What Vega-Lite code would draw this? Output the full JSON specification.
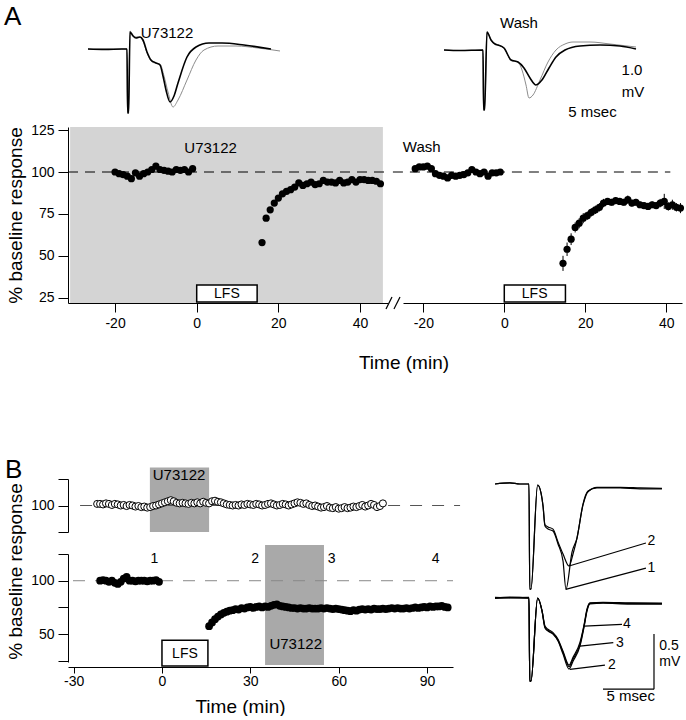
{
"$schema": "https://vega.github.io/schema/vega-lite/v6.json",
"padding": {"left": 4, "top": 0, "right": 0, "bottom": 0},
"autosize": {"type": "pad"},
"background": "white",
"config": {
  "view": {"stroke": null},
  "font": "Liberation Sans",
  "axis": {"grid": false, "domainColor": "black", "tickColor": "black", "labelColor": "black", "titleColor": "black", "labelFontSize": 14, "titleFontSize": 19, "titleFontWeight": "normal", "labelFlush": false, "labelOverlap": false, "domainWidth": 1, "tickWidth": 1, "labelFont": "Liberation Sans", "titleFont": "Liberation Sans"},
  "text": {"color": "black"}
},
"datasets": {
  "trAL": [
    {"s":"d","t":0,"v":0},{"s":"d","t":1.7,"v":-0.01},{"s":"d","t":3.4,"v":0},{"s":"d","t":3.9,"v":0},{"s":"d","t":3.96,"v":-1.6},{"s":"d","t":4.06,"v":-1.6},{"s":"d","t":4.2,"v":0.425},{"s":"d","t":4.5,"v":0.325},{"s":"d","t":4.8,"v":0.275},{"s":"d","t":5.2,"v":0.3},{"s":"d","t":5.5,"v":0.225},{"s":"d","t":5.9,"v":-0.075},{"s":"d","t":6.3,"v":-0.275},{"s":"d","t":6.8,"v":-0.35},{"s":"d","t":7.2,"v":-0.4},{"s":"d","t":7.5,"v":-0.675},{"s":"d","t":7.8,"v":-1.025},{"s":"d","t":8.2,"v":-1.325},{"s":"d","t":8.6,"v":-1.175},{"s":"d","t":9.0,"v":-0.85},{"s":"d","t":9.9,"v":-0.2},{"s":"d","t":10.8,"v":0.05},{"s":"d","t":12.1,"v":0.15},{"s":"d","t":13.4,"v":0.15},{"s":"d","t":15.6,"v":0.1},{"s":"d","t":18.3,"v":0},
    {"s":"c","t":0,"v":0},{"s":"c","t":1.7,"v":-0.01},{"s":"c","t":3.4,"v":0},{"s":"c","t":3.9,"v":0},{"s":"c","t":3.96,"v":-1.6},{"s":"c","t":4.06,"v":-1.6},{"s":"c","t":4.2,"v":0.45},{"s":"c","t":4.5,"v":0.35},{"s":"c","t":4.8,"v":0.3},{"s":"c","t":5.2,"v":0.3},{"s":"c","t":5.5,"v":0.2},{"s":"c","t":5.9,"v":-0.1},{"s":"c","t":6.3,"v":-0.3},{"s":"c","t":6.8,"v":-0.36},{"s":"c","t":7.2,"v":-0.375},{"s":"c","t":7.6,"v":-0.675},{"s":"c","t":8.0,"v":-1.075},{"s":"c","t":8.5,"v":-1.45},{"s":"c","t":9.0,"v":-1.275},{"s":"c","t":9.9,"v":-0.775},{"s":"c","t":10.8,"v":-0.275},{"s":"c","t":11.6,"v":-0.025},{"s":"c","t":13,"v":0.075},{"s":"c","t":14.8,"v":0.075},{"s":"c","t":17,"v":0.025},{"s":"c","t":19.2,"v":-0.05}
  ],
  "trAR": [
    {"s":"d","t":0,"v":0},{"s":"d","t":1.6,"v":-0.0125},{"s":"d","t":3.9,"v":0},{"s":"d","t":3.96,"v":-1.5},{"s":"d","t":4.06,"v":-1.5},{"s":"d","t":4.3,"v":0.45},{"s":"d","t":4.7,"v":0.25},{"s":"d","t":5.1,"v":0.15},{"s":"d","t":5.4,"v":0.125},{"s":"d","t":6.0,"v":0.05},{"s":"d","t":6.7,"v":-0.25},{"s":"d","t":7.4,"v":-0.3},{"s":"d","t":8.0,"v":-0.45},{"s":"d","t":8.6,"v":-0.7},{"s":"d","t":9.2,"v":-0.875},{"s":"d","t":9.8,"v":-0.75},{"s":"d","t":10.5,"v":-0.45},{"s":"d","t":11.2,"v":-0.175},{"s":"d","t":12.1,"v":0},{"s":"d","t":13.6,"v":0.1},{"s":"d","t":15.6,"v":0.125},{"s":"d","t":17.6,"v":0.1},{"s":"d","t":19.2,"v":0.025},
    {"s":"c","t":0,"v":0},{"s":"c","t":1.6,"v":-0.0125},{"s":"c","t":3.9,"v":0},{"s":"c","t":3.96,"v":-1.5},{"s":"c","t":4.06,"v":-1.5},{"s":"c","t":4.3,"v":0.45},{"s":"c","t":4.7,"v":0.25},{"s":"c","t":5.1,"v":0.15},{"s":"c","t":5.4,"v":0.125},{"s":"c","t":6.0,"v":0.05},{"s":"c","t":6.7,"v":-0.25},{"s":"c","t":7.4,"v":-0.3},{"s":"c","t":7.8,"v":-0.5},{"s":"c","t":8.2,"v":-0.875},{"s":"c","t":8.5,"v":-1.2},{"s":"c","t":8.9,"v":-1.125},{"s":"c","t":9.6,"v":-0.75},{"s":"c","t":10.4,"v":-0.3},{"s":"c","t":11.2,"v":0},{"s":"c","t":12.1,"v":0.15},{"s":"c","t":12.9,"v":0.2},{"s":"c","t":14.6,"v":0.2},{"s":"c","t":16.6,"v":0.15},{"s":"c","t":19.2,"v":0.075}
  ],
  "aLpts": [
    {"t":-20,"v":100},{"t":-19,"v":99},{"t":-18,"v":98.5},{"t":-17,"v":97.5},{"t":-16,"v":96},{"t":-15,"v":99.5},{"t":-14,"v":97.5},{"t":-13,"v":99},{"t":-12,"v":100},{"t":-11,"v":101.5},{"t":-10,"v":103.5},{"t":-9,"v":101.5},{"t":-8,"v":101},{"t":-7,"v":100.5},{"t":-6,"v":100},{"t":-5,"v":101.5},{"t":-4,"v":101},{"t":-3,"v":101.5},{"t":-2,"v":100},{"t":-1,"v":102},
    {"t":16,"v":58},{"t":17,"v":72.5},{"t":18,"v":77.5},{"t":19,"v":81.5},{"t":20,"v":84.5},{"t":21,"v":87},{"t":22,"v":88.5},{"t":23,"v":89.5},{"t":24,"v":91},{"t":25,"v":93.5},{"t":26,"v":92},{"t":27,"v":93},{"t":28,"v":94},{"t":29,"v":92.5},{"t":30,"v":93},{"t":31,"v":95},{"t":32,"v":94},{"t":33,"v":94},{"t":34,"v":93.5},{"t":35,"v":95},{"t":36,"v":93.5},{"t":37,"v":94},{"t":38,"v":95.5},{"t":39,"v":94},{"t":40,"v":95.5},{"t":41,"v":95.5},{"t":42,"v":95},{"t":43,"v":95},{"t":44,"v":94.5},{"t":45,"v":93}
  ],
  "aRpts": [
    {"t":-22,"v":102},{"t":-21,"v":103},{"t":-20,"v":103},{"t":-19,"v":103.5},{"t":-18,"v":102},{"t":-17,"v":99},{"t":-16,"v":98},{"t":-15,"v":97.5},{"t":-14,"v":96.5},{"t":-13,"v":98},{"t":-12,"v":97.5},{"t":-11,"v":98},{"t":-10,"v":98.5},{"t":-9,"v":99.5},{"t":-8,"v":101.5},{"t":-7,"v":100},{"t":-6,"v":99},{"t":-5,"v":100},{"t":-4,"v":97.5},{"t":-3,"v":99.5},{"t":-2,"v":99.5},{"t":-1,"v":100},
    {"t":14.5,"v":45.6},{"t":15.5,"v":54},{"t":16.5,"v":60},{"t":17.5,"v":67},{"t":18.5,"v":69.5},{"t":19.5,"v":72.5},{"t":20.5,"v":74},{"t":21.5,"v":76},{"t":22.5,"v":77.5},{"t":23.5,"v":79},{"t":24.5,"v":81.5},{"t":25.5,"v":82.5},{"t":26.5,"v":82},{"t":27.5,"v":83},{"t":28.5,"v":82.5},{"t":29.5,"v":82},{"t":30.5,"v":83.5},{"t":31.5,"v":81.5},{"t":32.5,"v":82},{"t":33.5,"v":80.5},{"t":34.5,"v":80},{"t":35.5,"v":79.5},{"t":36.5,"v":80.5},{"t":37.5,"v":80},{"t":38.5,"v":81.5},{"t":39.5,"v":82.5},{"t":40.5,"v":79.5},{"t":41.5,"v":80.5},{"t":42.5,"v":79},{"t":43.5,"v":78.5}
  ],
  "aRerr": [
    {"t":14.5,"v":41.1,"v2":50.1},{"t":15.5,"v":50,"v2":58},{"t":16.5,"v":56.5,"v2":63.5},{"t":17.5,"v":64,"v2":70},{"t":18.5,"v":66.5,"v2":72.5},{"t":19.5,"v":69.5,"v2":75.5},{"t":20.5,"v":71.5,"v2":76.5},{"t":21.5,"v":73.5,"v2":78.5},{"t":22.5,"v":75,"v2":80},{"t":23.5,"v":76.5,"v2":81.5},{"t":24.5,"v":79,"v2":84},{"t":25.5,"v":80.5,"v2":84.5},{"t":26.5,"v":80,"v2":84},{"t":27.5,"v":81,"v2":85},{"t":28.5,"v":80.5,"v2":84.5},{"t":29.5,"v":80,"v2":84},{"t":30.5,"v":81,"v2":86},{"t":31.5,"v":79.5,"v2":83.5},{"t":32.5,"v":80,"v2":84},{"t":33.5,"v":78.5,"v2":82.5},{"t":34.5,"v":78,"v2":82},{"t":35.5,"v":77.5,"v2":81.5},{"t":36.5,"v":78.5,"v2":82.5},{"t":37.5,"v":78,"v2":82},{"t":38.5,"v":79,"v2":84},{"t":39.5,"v":78,"v2":87},{"t":40.5,"v":77,"v2":82},{"t":41.5,"v":77.5,"v2":83.5},{"t":42.5,"v":76.5,"v2":81.5},{"t":43.5,"v":75.5,"v2":81.5}
  ],
  "bTop": [
    {"t":-22,"v":103},{"t":-21,"v":103},{"t":-20,"v":102},{"t":-19,"v":104},{"t":-18,"v":103},{"t":-17,"v":101},{"t":-16,"v":103},{"t":-15,"v":102},{"t":-14,"v":100},{"t":-13,"v":101},{"t":-12,"v":99},{"t":-11,"v":101},{"t":-10,"v":100},{"t":-9,"v":98},{"t":-8,"v":99},{"t":-7,"v":97},{"t":-6,"v":98},{"t":-5,"v":96},{"t":-4,"v":97},{"t":-3,"v":99},{"t":-2,"v":100},{"t":-1,"v":102},{"t":0,"v":104},{"t":1,"v":106},{"t":2,"v":108},{"t":3,"v":110},{"t":4,"v":108},{"t":5,"v":105},{"t":6,"v":104},{"t":7,"v":105},{"t":8,"v":104},{"t":9,"v":103},{"t":10,"v":105},{"t":11,"v":104},{"t":12,"v":106},{"t":13,"v":104},{"t":14,"v":107},{"t":15,"v":105},{"t":16,"v":104},{"t":17,"v":108},{"t":18,"v":109},{"t":19,"v":107},{"t":20,"v":106},{"t":21,"v":104},{"t":22,"v":102},{"t":23,"v":101},{"t":24,"v":100},{"t":25,"v":101},{"t":26,"v":100},{"t":27,"v":102},{"t":28,"v":101},{"t":29,"v":103},{"t":30,"v":102},{"t":31,"v":101},{"t":32,"v":103},{"t":33,"v":102},{"t":34,"v":100},{"t":35,"v":101},{"t":36,"v":103},{"t":37,"v":104},{"t":38,"v":102},{"t":39,"v":100},{"t":40,"v":101},{"t":41,"v":103},{"t":42,"v":102},{"t":43,"v":100},{"t":44,"v":102},{"t":45,"v":104},{"t":46,"v":106},{"t":47,"v":105},{"t":48,"v":103},{"t":49,"v":104},{"t":50,"v":101},{"t":51,"v":99},{"t":52,"v":100},{"t":53,"v":98},{"t":54,"v":96},{"t":55,"v":97},{"t":56,"v":99},{"t":57,"v":96},{"t":58,"v":95},{"t":59,"v":97},{"t":60,"v":94},{"t":61,"v":95},{"t":62,"v":97},{"t":63,"v":95},{"t":64,"v":96},{"t":65,"v":98},{"t":66,"v":97},{"t":67,"v":99},{"t":68,"v":101},{"t":69,"v":98},{"t":70,"v":100},{"t":71,"v":103},{"t":72,"v":101},{"t":73,"v":97},{"t":74,"v":99},{"t":75,"v":104}
  ],
  "bBot": [
    {"t":-21,"v":100},{"t":-20,"v":100.5},{"t":-19,"v":100},{"t":-18,"v":99},{"t":-17,"v":100},{"t":-16,"v":98},{"t":-15,"v":97},{"t":-14,"v":99},{"t":-13,"v":102},{"t":-12,"v":103.5},{"t":-11,"v":100},{"t":-10,"v":100},{"t":-9,"v":99.5},{"t":-8,"v":100},{"t":-7,"v":100},{"t":-6,"v":100},{"t":-5,"v":99.5},{"t":-4,"v":100},{"t":-3,"v":100},{"t":-2,"v":100.5},{"t":-1,"v":99},
    {"t":16,"v":57.5},{"t":17,"v":61},{"t":18,"v":64},{"t":19,"v":66.5},{"t":20,"v":68.5},{"t":21,"v":70},{"t":22,"v":71},{"t":23,"v":72},{"t":24,"v":72.5},{"t":25,"v":73.5},{"t":26,"v":73},{"t":27,"v":74.5},{"t":28,"v":74},{"t":29,"v":75},{"t":30,"v":75.5},{"t":31,"v":74.5},{"t":32,"v":75.5},{"t":33,"v":76},{"t":34,"v":75},{"t":35,"v":76},{"t":36,"v":75.5},{"t":37,"v":76.5},{"t":38,"v":77.5},{"t":39,"v":78},{"t":40,"v":76.5},{"t":41,"v":76},{"t":42,"v":75.5},{"t":43,"v":75},{"t":44,"v":74.5},{"t":45,"v":74.5},{"t":46,"v":74},{"t":47,"v":74.5},{"t":48,"v":74},{"t":49,"v":74},{"t":50,"v":74.5},{"t":51,"v":74},{"t":52,"v":74},{"t":53,"v":74},{"t":54,"v":74.5},{"t":55,"v":74},{"t":56,"v":74.5},{"t":57,"v":74},{"t":58,"v":73.5},{"t":59,"v":74},{"t":60,"v":73.5},{"t":61,"v":73},{"t":62,"v":72.5},{"t":63,"v":72},{"t":64,"v":71.5},{"t":65,"v":72.5},{"t":66,"v":72},{"t":67,"v":73},{"t":68,"v":73.5},{"t":69,"v":73},{"t":70,"v":73.5},{"t":71,"v":73},{"t":72,"v":74},{"t":73,"v":73.5},{"t":74,"v":73.5},{"t":75,"v":74},{"t":76,"v":73.5},{"t":77,"v":74},{"t":78,"v":74.5},{"t":79,"v":74},{"t":80,"v":74.5},{"t":81,"v":74},{"t":82,"v":74},{"t":83,"v":74.5},{"t":84,"v":74},{"t":85,"v":74.5},{"t":86,"v":75},{"t":87,"v":74.5},{"t":88,"v":75},{"t":89,"v":75.5},{"t":90,"v":75},{"t":91,"v":76},{"t":92,"v":75.5},{"t":93,"v":76},{"t":94,"v":76},{"t":95,"v":76.5},{"t":96,"v":75.5},{"t":97,"v":75}
  ],
  "trB": [
    {"s":"1","t":0.49,"v":0},{"s":"1","t":1.96,"v":0.01},{"s":"1","t":2.94,"v":0},{"s":"1","t":3.82,"v":0},{"s":"1","t":3.9,"v":-0.955},{"s":"1","t":4.02,"v":-0.955},{"s":"1","t":4.67,"v":-0.009},{"s":"1","t":5.0,"v":-0.08},{"s":"1","t":5.2,"v":-0.2},{"s":"1","t":5.39,"v":-0.382},{"s":"1","t":5.69,"v":-0.409},{"s":"1","t":6.18,"v":-0.427},{"s":"1","t":6.67,"v":-0.545},{"s":"1","t":7.16,"v":-0.7},{"s":"1","t":7.45,"v":-0.955},{"s":"1","t":8.04,"v":-0.62},{"s":"1","t":8.53,"v":-0.491},{"s":"1","t":9.12,"v":-0.182},{"s":"1","t":9.61,"v":-0.064},{"s":"1","t":10.49,"v":-0.036},{"s":"1","t":12.75,"v":-0.036},{"s":"1","t":14.71,"v":-0.045},{"s":"1","t":16.86,"v":-0.045},
    {"s":"2","t":0.49,"v":0},{"s":"2","t":1.96,"v":0.01},{"s":"2","t":2.94,"v":0},{"s":"2","t":3.82,"v":0},{"s":"2","t":3.9,"v":-0.955},{"s":"2","t":4.02,"v":-0.955},{"s":"2","t":4.67,"v":-0.009},{"s":"2","t":5.0,"v":-0.08},{"s":"2","t":5.2,"v":-0.2},{"s":"2","t":5.39,"v":-0.37},{"s":"2","t":5.69,"v":-0.39},{"s":"2","t":6.18,"v":-0.41},{"s":"2","t":6.67,"v":-0.527},{"s":"2","t":7.16,"v":-0.636},{"s":"2","t":7.75,"v":-0.745},{"s":"2","t":8.14,"v":-0.636},{"s":"2","t":8.53,"v":-0.491},{"s":"2","t":9.12,"v":-0.19},{"s":"2","t":9.61,"v":-0.07},{"s":"2","t":10.49,"v":-0.03},{"s":"2","t":12.75,"v":-0.03},{"s":"2","t":14.71,"v":-0.035},{"s":"2","t":16.86,"v":-0.04},
    {"s":"b2","t":0.49,"v":-1.036},{"s":"b2","t":1.96,"v":-1.027},{"s":"b2","t":3.82,"v":-1.036},{"s":"b2","t":3.9,"v":-1.791},{"s":"b2","t":4.02,"v":-1.791},{"s":"b2","t":4.67,"v":-1.036},{"s":"b2","t":5.1,"v":-1.155},{"s":"b2","t":5.39,"v":-1.309},{"s":"b2","t":5.69,"v":-1.336},{"s":"b2","t":6.18,"v":-1.364},{"s":"b2","t":6.67,"v":-1.427},{"s":"b2","t":7.16,"v":-1.545},{"s":"b2","t":7.75,"v":-1.682},{"s":"b2","t":8.14,"v":-1.61},{"s":"b2","t":8.82,"v":-1.473},{"s":"b2","t":9.24,"v":-1.291},{"s":"b2","t":9.5,"v":-1.16},{"s":"b2","t":9.8,"v":-1.09},{"s":"b2","t":11.08,"v":-1.082},{"s":"b2","t":13.73,"v":-1.091},{"s":"b2","t":16.86,"v":-1.091},
    {"s":"b3","t":0.49,"v":-1.031},{"s":"b3","t":1.96,"v":-1.032},{"s":"b3","t":3.82,"v":-1.031},{"s":"b3","t":3.9,"v":-1.791},{"s":"b3","t":4.02,"v":-1.791},{"s":"b3","t":4.67,"v":-1.036},{"s":"b3","t":5.1,"v":-1.15},{"s":"b3","t":5.39,"v":-1.3},{"s":"b3","t":5.69,"v":-1.33},{"s":"b3","t":6.18,"v":-1.36},{"s":"b3","t":6.67,"v":-1.42},{"s":"b3","t":7.16,"v":-1.53},{"s":"b3","t":7.75,"v":-1.66},{"s":"b3","t":8.14,"v":-1.59},{"s":"b3","t":8.82,"v":-1.46},{"s":"b3","t":9.24,"v":-1.28},{"s":"b3","t":9.5,"v":-1.15},{"s":"b3","t":9.8,"v":-1.085},{"s":"b3","t":11.08,"v":-1.078},{"s":"b3","t":13.73,"v":-1.085},{"s":"b3","t":16.86,"v":-1.087},
    {"s":"b4","t":0.49,"v":-1.04},{"s":"b4","t":1.96,"v":-1.036},{"s":"b4","t":3.82,"v":-1.038},{"s":"b4","t":3.9,"v":-1.791},{"s":"b4","t":4.02,"v":-1.791},{"s":"b4","t":4.67,"v":-1.036},{"s":"b4","t":5.1,"v":-1.15},{"s":"b4","t":5.39,"v":-1.29},{"s":"b4","t":5.69,"v":-1.32},{"s":"b4","t":6.18,"v":-1.35},{"s":"b4","t":6.67,"v":-1.41},{"s":"b4","t":7.16,"v":-1.52},{"s":"b4","t":7.75,"v":-1.645},{"s":"b4","t":8.14,"v":-1.575},{"s":"b4","t":8.82,"v":-1.44},{"s":"b4","t":9.24,"v":-1.27},{"s":"b4","t":9.5,"v":-1.14},{"s":"b4","t":9.8,"v":-1.08},{"s":"b4","t":11.08,"v":-1.075},{"s":"b4","t":13.73,"v":-1.08},{"s":"b4","t":16.86,"v":-1.082}
  ]
},
"spacing": 84,
"vconcat": [
  {
    "columns": 2,
    "spacing": {"row": 0, "column": 15},
    "bounds": "flush",
    "align": "each",
    "concat": [
      {
        "width": 320, "height": 127,
        "encoding": {
          "x": {"field": "t", "type": "quantitative", "scale": {"domain": [-2, 30], "nice": false, "zero": false}, "axis": null},
          "y": {"field": "v", "type": "quantitative", "scale": {"domain": [-1.95, 1.225], "nice": false, "zero": false}, "axis": null}
        },
        "layer": [
          {"data": {"name": "trAL"}, "transform": [{"filter": "datum.s === 'c'"}], "mark": {"type": "line", "color": "#8c8c8c", "strokeWidth": 1, "interpolate": "monotone"}},
          {"data": {"name": "trAL"}, "transform": [{"filter": "datum.s === 'd'"}], "mark": {"type": "line", "color": "black", "strokeWidth": 1.6, "interpolate": "monotone"}},
          {"data": {"values": [{"t": 7.9, "v": 0.4, "label": "U73122"}]}, "mark": {"type": "text", "fontSize": 15, "align": "center", "baseline": "middle", "color": "black"}, "encoding": {"text": {"field": "label"}}},
          {"data": {"values": [{"t": -8.4, "v": 0.8, "label": "A"}]}, "mark": {"type": "text", "fontSize": 26, "align": "left", "baseline": "middle", "color": "black"}, "encoding": {"text": {"field": "label"}}}
        ]
      },
      {
        "width": 279, "height": 127,
        "encoding": {
          "x": {"field": "t", "type": "quantitative", "scale": {"domain": [-4.1, 23.8], "nice": false, "zero": false}, "axis": null},
          "y": {"field": "v", "type": "quantitative", "scale": {"domain": [-1.925, 1.25], "nice": false, "zero": false}, "axis": null}
        },
        "layer": [
          {"data": {"name": "trAR"}, "transform": [{"filter": "datum.s === 'c'"}], "mark": {"type": "line", "color": "#8c8c8c", "strokeWidth": 1, "interpolate": "monotone"}},
          {"data": {"name": "trAR"}, "transform": [{"filter": "datum.s === 'd'"}], "mark": {"type": "line", "color": "black", "strokeWidth": 1.6, "interpolate": "monotone"}},
          {"data": {"values": [{"t": 7.5, "v": 0.6875, "label": "Wash"}, {"t": 18.8, "v": -0.5, "label": "1.0"}, {"t": 18.9, "v": -1.05, "label": "mV"}, {"t": 14.85, "v": -1.54, "label": "5 msec"}]}, "mark": {"type": "text", "fontSize": 15, "align": "center", "baseline": "middle", "color": "black"}, "encoding": {"text": {"field": "label"}}}
        ]
      },
      {
        "width": 320, "height": 176,
        "encoding": {
          "x": {"field": "t", "type": "quantitative", "scale": {"domain": [-31.52, 46.85], "nice": false, "zero": false},
                "axis": {"values": [-20, 0, 20, 40], "tickSize": 9, "labelPadding": 4, "labelExpr": "'' + datum.value", "title": "Time (min)", "titleX": 335.5, "titleY": 65, "titleBaseline": "alphabetic", "titleAlign": "center"}},
          "y": {"field": "v", "type": "quantitative", "scale": {"domain": [22, 126.8], "nice": false, "zero": false},
                "axis": {"values": [25, 50, 75, 100, 125], "tickSize": 10, "labelPadding": 4, "title": "% baseline response", "titlePadding": 5}}
        },
        "layer": [
          {"data": {"values": [{"t": -31.0, "t2": 45.6, "v": 22, "v2": 126.8}]}, "mark": {"type": "rect", "color": "#d4d4d4"}, "encoding": {"x2": {"field": "t2"}, "y2": {"field": "v2"}}},
          {"data": {"values": [{"t": -31.52, "t2": 46.85, "v": 100}]}, "mark": {"type": "rule", "color": "black", "strokeWidth": 1, "strokeDash": [10, 7]}, "encoding": {"x2": {"field": "t2"}}},
          {"data": {"values": [{"t": 0, "t2": 14.8, "v": 22.6, "v2": 32.7}]}, "mark": {"type": "rect", "fill": "white", "stroke": "black", "strokeWidth": 1.5}, "encoding": {"x2": {"field": "t2"}, "y2": {"field": "v2"}}},
          {"data": {"values": [{"t": 7.4, "v": 27.4, "label": "LFS"}]}, "mark": {"type": "text", "fontSize": 14, "align": "center", "baseline": "middle", "color": "black"}, "encoding": {"text": {"field": "label"}}},
          {"data": {"name": "aLpts"}, "mark": {"type": "circle", "color": "black", "size": 52, "opacity": 1}},
          {"data": {"values": [{"t": 3.4, "v": 114.3, "label": "U73122"}]}, "mark": {"type": "text", "fontSize": 15, "align": "center", "baseline": "middle", "color": "black"}, "encoding": {"text": {"field": "label"}}},
          {"data": {"values": [{"t": 46.36, "v": 18.45, "t2": 47.83, "v2": 25.6}, {"t": 48.32, "v": 18.45, "t2": 49.79, "v2": 25.6}]}, "mark": {"type": "rule", "color": "black", "strokeWidth": 1.2}, "encoding": {"x2": {"field": "t2"}, "y2": {"field": "v2"}}}
        ]
      },
      {
        "width": 279, "height": 176,
        "encoding": {
          "x": {"field": "t", "type": "quantitative", "scale": {"domain": [-25.01, 43.88], "nice": false, "zero": false},
                "axis": {"values": [-20, 0, 20, 40], "tickSize": 9, "labelPadding": 4, "labelExpr": "'' + datum.value", "title": null}},
          "y": {"field": "v", "type": "quantitative", "scale": {"domain": [22, 126.8], "nice": false, "zero": false}, "axis": null}
        },
        "layer": [
          {"data": {"values": [{"t": -27.5, "t2": 41, "v": 100}]}, "mark": {"type": "rule", "color": "black", "strokeWidth": 1, "strokeDash": [10, 7]}, "encoding": {"x2": {"field": "t2"}}},
          {"data": {"values": [{"t": 0, "t2": 15.1, "v": 22.6, "v2": 32.7}]}, "mark": {"type": "rect", "fill": "white", "stroke": "black", "strokeWidth": 1.5}, "encoding": {"x2": {"field": "t2"}, "y2": {"field": "v2"}}},
          {"data": {"values": [{"t": 7.5, "v": 27.4, "label": "LFS"}]}, "mark": {"type": "text", "fontSize": 14, "align": "center", "baseline": "middle", "color": "black"}, "encoding": {"text": {"field": "label"}}},
          {"data": {"name": "aRerr"}, "mark": {"type": "rule", "color": "black", "strokeWidth": 1}, "encoding": {"y2": {"field": "v2"}}},
          {"data": {"name": "aRpts"}, "mark": {"type": "circle", "color": "black", "size": 52, "opacity": 1}},
          {"data": {"values": [{"t": -20.4, "v": 114.6, "label": "Wash"}]}, "mark": {"type": "text", "fontSize": 15, "align": "center", "baseline": "middle", "color": "black"}, "encoding": {"text": {"field": "label"}}}
        ]
      }
    ]
  },
  {
    "columns": 2,
    "spacing": {"row": 0, "column": 15},
    "bounds": "flush",
    "align": "each",
    "concat": [
      {
        "width": 385, "height": 53,
        "encoding": {
          "x": {"field": "t", "type": "quantitative", "scale": {"domain": [-31.9, 98.8], "nice": false, "zero": false}, "axis": null},
          "y": {"field": "v", "type": "quantitative", "scale": {"domain": [50, 150], "nice": false, "zero": false},
                "axis": {"values": [50, 100, 150], "labelExpr": "datum.value == 100 ? '100' : ''", "tickSize": 10, "labelPadding": 4, "title": null}}
        },
        "layer": [
          {"data": {"values": [{"t": -4.1, "t2": 16.0, "v": 50, "v2": 171.7}]}, "mark": {"type": "rect", "color": "#a9a9a9"}, "encoding": {"x2": {"field": "t2"}, "y2": {"field": "v2"}}},
          {"data": {"values": [{"t": -27.8, "t2": 101.2, "v": 100}]}, "mark": {"type": "rule", "color": "#555555", "strokeWidth": 1, "strokeDash": [12, 10]}, "encoding": {"x2": {"field": "t2"}}},
          {"data": {"name": "bTop"}, "mark": {"type": "circle", "fill": "white", "stroke": "black", "strokeWidth": 1, "size": 50, "opacity": 1}},
          {"data": {"values": [{"t": 5.8, "v": 157.5, "label": "U73122"}]}, "mark": {"type": "text", "fontSize": 15, "align": "center", "baseline": "middle", "color": "black"}, "encoding": {"text": {"field": "label"}}},
          {"data": {"values": [{"t": -53.3, "v": 167, "label": "B"}]}, "mark": {"type": "text", "fontSize": 26, "align": "left", "baseline": "middle", "color": "black"}, "encoding": {"text": {"field": "label"}}}
        ]
      },
      {
        "width": 212, "height": 75,
        "encoding": {
          "x": {"field": "t", "type": "quantitative", "scale": {"domain": [-2.157, 18.63], "nice": false, "zero": false}, "axis": null},
          "y": {"field": "v", "type": "quantitative", "scale": {"domain": [-0.636, 0.0455], "nice": false, "zero": false}, "axis": null}
        },
        "layer": [
          {"data": {"name": "trB"}, "mark": {"type": "line", "color": "black", "strokeWidth": 1.2, "interpolate": "monotone"}, "encoding": {"detail": {"field": "s"}}},
          {"data": {"values": [{"t": 7.75, "v": -0.745, "t2": 15.29, "v2": -0.536}, {"t": 7.42, "v": -0.957, "t2": 15.29, "v2": -0.764}, {"t": 9.24, "v": -1.291, "t2": 12.94, "v2": -1.276}, {"t": 8.82, "v": -1.473, "t2": 12.09, "v2": -1.442}, {"t": 7.84, "v": -1.685, "t2": 11.27, "v2": -1.645}, {"t": 16.08, "v": -1.364, "t2": 16.08, "v2": -1.864}, {"t": 11.08, "v": -1.864, "t2": 16.08, "v2": -1.864}]}, "mark": {"type": "rule", "color": "black", "strokeWidth": 1.2}, "encoding": {"x2": {"field": "t2"}, "y2": {"field": "v2"}}},
          {"data": {"values": [{"t": 15.45, "v": -0.518, "label": "2"}, {"t": 15.45, "v": -0.764, "label": "1"}, {"t": 13.04, "v": -1.276, "label": "4"}, {"t": 12.35, "v": -1.442, "label": "3"}, {"t": 11.57, "v": -1.645, "label": "2"}, {"t": 16.6, "v": -1.473, "label": "0.5"}, {"t": 16.6, "v": -1.618, "label": "mV"}]}, "mark": {"type": "text", "fontSize": 14, "align": "left", "baseline": "middle", "color": "black"}, "encoding": {"text": {"field": "label"}}},
          {"data": {"values": [{"t": 13.8, "v": -1.927, "label": "5 msec"}]}, "mark": {"type": "text", "fontSize": 15, "align": "center", "baseline": "middle", "color": "black"}, "encoding": {"text": {"field": "label"}}}
        ]
      },
      {
        "width": 385, "height": 108,
        "encoding": {
          "x": {"field": "t", "type": "quantitative", "scale": {"domain": [-31.9, 98.8], "nice": false, "zero": false},
                "axis": {"values": [-30, 0, 30, 60, 90], "tickSize": 6, "labelPadding": 1, "offset": 5, "labelExpr": "'' + datum.value", "title": "Time (min)", "titleX": 172, "titleY": 45, "titleBaseline": "alphabetic", "titleAlign": "center"}},
          "y": {"field": "v", "type": "quantitative", "scale": {"domain": [24, 125], "nice": false, "zero": false},
                "axis": {"values": [25, 50, 75, 100, 125], "labelExpr": "(datum.value == 50 || datum.value == 100) ? '' + datum.value : ''", "tickSize": 10, "labelPadding": 4, "title": "% baseline response", "titleY": 17, "titlePadding": 5}}
        },
        "layer": [
          {"data": {"values": [{"t": 35.0, "t2": 55.0, "v": 21.2, "v2": 133.4}]}, "mark": {"type": "rect", "color": "#a9a9a9"}, "encoding": {"x2": {"field": "t2"}, "y2": {"field": "v2"}}},
          {"data": {"values": [{"t": -30.2, "t2": 98.8, "v": 100}]}, "mark": {"type": "rule", "color": "#888888", "strokeWidth": 1, "strokeDash": [12, 10]}, "encoding": {"x2": {"field": "t2"}}},
          {"data": {"values": [{"t": 0, "t2": 15.6, "v": 20.2, "v2": 44.3}]}, "mark": {"type": "rect", "fill": "white", "stroke": "black", "strokeWidth": 1.5}, "encoding": {"x2": {"field": "t2"}, "y2": {"field": "v2"}}},
          {"data": {"values": [{"t": 7.8, "v": 31.5, "label": "LFS"}]}, "mark": {"type": "text", "fontSize": 14, "align": "center", "baseline": "middle", "color": "black"}, "encoding": {"text": {"field": "label"}}},
          {"data": {"name": "bBot"}, "mark": {"type": "circle", "color": "black", "size": 60, "opacity": 1}},
          {"data": {"values": [{"t": 45.4, "v": 40.5, "label": "U73122"}]}, "mark": {"type": "text", "fontSize": 15, "align": "center", "baseline": "middle", "color": "black"}, "encoding": {"text": {"field": "label"}}},
          {"data": {"values": [{"t": -2.6, "v": 120, "label": "1"}, {"t": 31.6, "v": 120, "label": "2"}, {"t": 57.6, "v": 120, "label": "3"}, {"t": 92.9, "v": 120, "label": "4"}]}, "mark": {"type": "text", "fontSize": 14, "align": "center", "baseline": "middle", "color": "black"}, "encoding": {"text": {"field": "label"}}}
        ]
      }
    ]
  }
]
}
